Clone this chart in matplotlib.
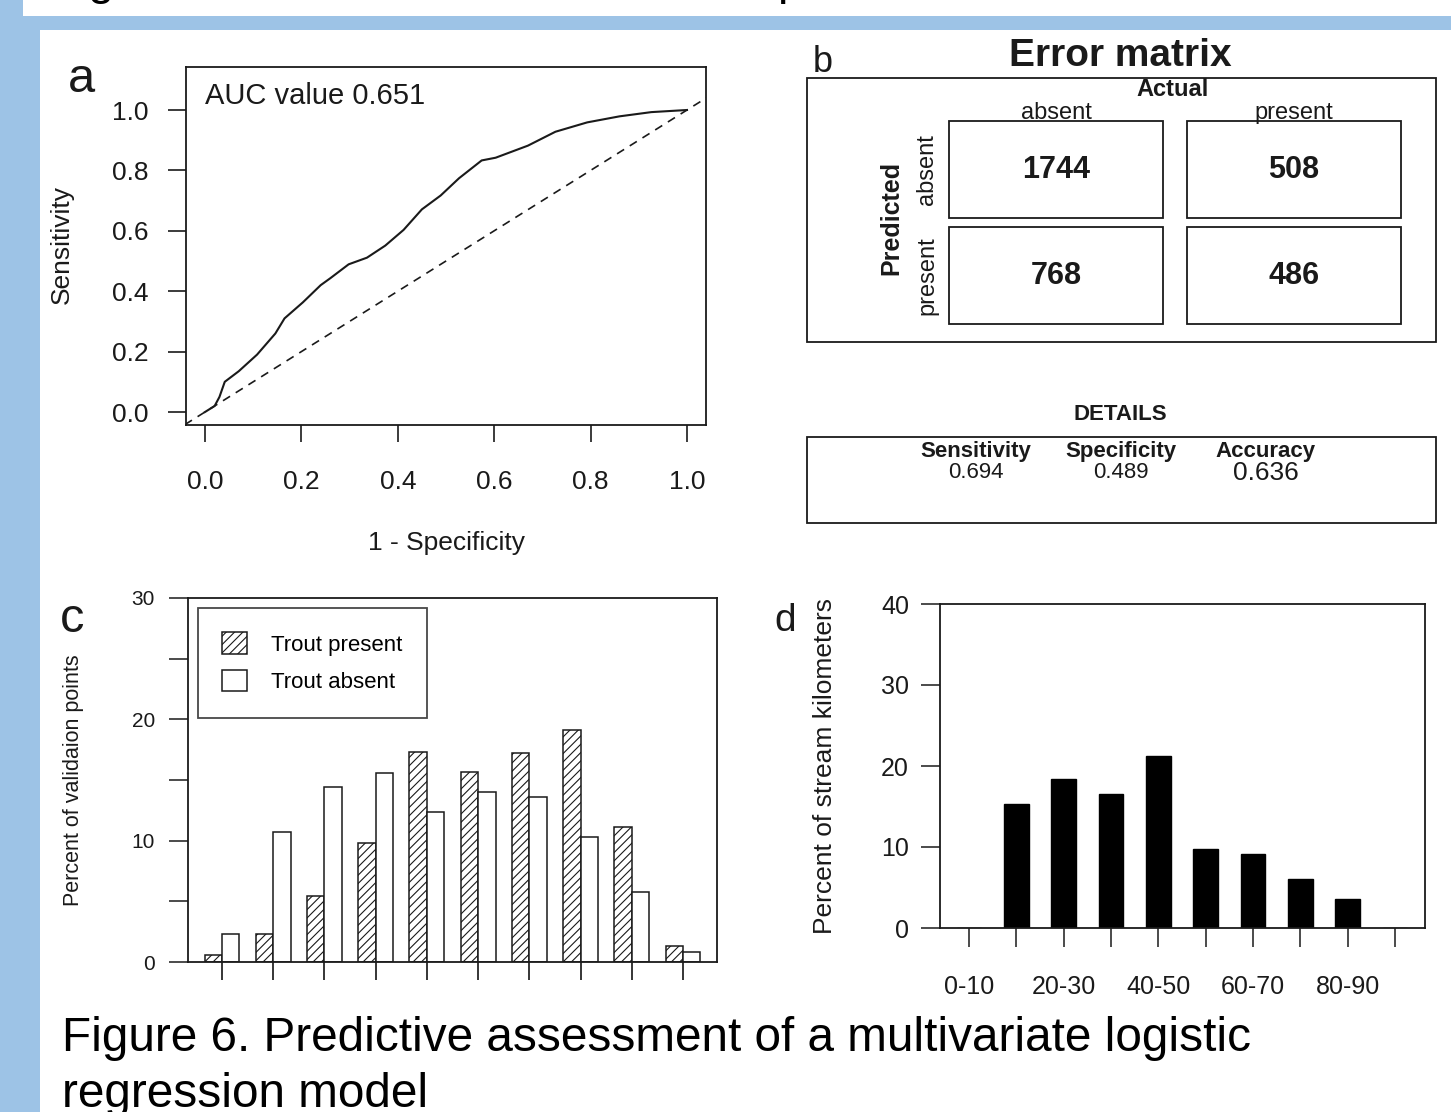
import matplotlib
matplotlib.use("Agg")
import matplotlib.pyplot as plt
from matplotlib.patches import Rectangle

plt.rcParams["font.family"] = ["Liberation Sans", "DejaVu Sans"]
plt.rcParams["hatch.linewidth"] = 0.8
plt.rcParams["axes.linewidth"] = 1.3

# ---- data ----
# panel a: ROC curve
roc_fpr = [0.0, 0.01, 0.02, 0.03, 0.041, 0.07, 0.108, 0.146, 0.165, 0.203, 0.24,
           0.26, 0.298, 0.336, 0.374, 0.412, 0.45, 0.489, 0.527, 0.574, 0.603,
           0.67, 0.727, 0.793, 0.86, 0.926, 1.0]
roc_tpr = [0.0, 0.01, 0.02, 0.05, 0.10, 0.135, 0.19, 0.26, 0.31, 0.363, 0.42,
           0.443, 0.489, 0.511, 0.551, 0.603, 0.671, 0.717, 0.774, 0.833, 0.842,
           0.882, 0.928, 0.959, 0.979, 0.993, 1.0]
auc_value = 0.651

# panel b: error matrix
actual_labels = ["absent", "present"]
predicted_labels = ["absent", "present"]
matrix_counts = [[1744, 508], [768, 486]]
detail_names = ["Sensitivity", "Specificity", "Accuracy"]
detail_values = ["0.694", "0.489", "0.636"]

# panel c: validation points by probability bin
bins_c = [1, 2, 3, 4, 5, 6, 7, 8, 9, 10]
present_pct = [0.6, 2.3, 5.4, 9.8, 17.3, 15.7, 17.2, 19.1, 11.1, 1.3]
absent_pct = [2.3, 10.7, 14.4, 15.6, 12.4, 14.0, 13.6, 10.3, 5.8, 0.8]

# panel d: stream kilometers by probability class
classes_d = ["0-10", "10-20", "20-30", "30-40", "40-50",
             "50-60", "60-70", "70-80", "80-90", "90-100"]
stream_pct = [0, 15.3, 18.4, 16.6, 21.2, 9.8, 9.1, 6.0, 3.6, 0]

caption_lines = ["Figure 6. Predictive assessment of a multivariate logistic",
                 "regression model"]

# ---- figure in pixel units ----
W, H = 1451, 1112
fig = plt.figure(figsize=(W / 100, H / 100), dpi=100)
fig.patch.set_facecolor("#9DC3E6")
INK = "#1a1a1a"


def px_rect(x0, y0, x1, y1, **kw):
    fig.add_artist(Rectangle((x0 / W, 1 - y1 / H), (x1 - x0) / W, (y1 - y0) / H,
                             transform=fig.transFigure, zorder=-10, **kw))


def ftext(x, y, s, **kw):
    kw.setdefault("color", INK)
    return fig.text(x / W, 1 - y / H, s, **kw)


def add_ax(x0, y0, x1, y1):
    return fig.add_axes([x0 / W, 1 - y1 / H, (x1 - x0) / W, (y1 - y0) / H])


def lims(p0, v0, p1, v1, e0, e1):
    s = (v1 - v0) / (p1 - p0)
    return v0 + (e0 - p0) * s, v0 + (e1 - p0) * s


def pt(px):
    return px * 0.72


px_rect(23, 0, W, 16, fc="white", ec="none")
px_rect(40, 30, W, H, fc="white", ec="none")
# cut-off line of the previous text at the very top
ftext(88, -6, "g", fontsize=34, ha="left", va="baseline", color="black")
ftext(777, -6, "p", fontsize=34, ha="left", va="baseline", color="black")

# ---- panel a ----
ax = add_ax(186, 67, 706, 425)
ax.set_xlim(*lims(205, 0, 687, 1, 186, 706))
ax.set_ylim(*lims(412, 0, 110, 1, 425, 67))
ax.plot(roc_fpr, roc_tpr, color=INK, lw=1.5)
ax.plot([-0.2, 1.2], [-0.2, 1.2], color=INK, lw=1.2, dashes=(5, 4))
ticks = [0, 0.2, 0.4, 0.6, 0.8, 1.0]
ax.set_xticks(ticks, [f"{t:.1f}" for t in ticks])
ax.set_yticks(ticks, [f"{t:.1f}" for t in ticks])
ax.tick_params(axis="x", length=pt(17), width=1.2, pad=pt(28), labelsize=19, colors=INK)
ax.tick_params(axis="y", length=pt(18), width=1.2, pad=pt(19), labelsize=19, colors=INK)
ftext(205, 96, f"AUC value {auc_value}", fontsize=21, ha="left", va="center")
ftext(62, 245, "Sensitivity", fontsize=19, rotation=90, ha="center", va="center")
ftext(446, 543, "1 - Specificity", fontsize=19, ha="center", va="center")
ftext(81, 80, "a", fontsize=35, ha="center", va="center")

# ---- panel b ----
ov = fig.add_axes([0, 0, 1, 1], facecolor="none")
ov.set_xlim(0, W)
ov.set_ylim(H, 0)
ov.axis("off")
ov.add_patch(Rectangle((807, 78), 629, 264, fill=False, ec=INK, lw=1.3))
ov.add_patch(Rectangle((807, 437), 629, 86, fill=False, ec=INK, lw=1.3))
cell_x0, cell_y0, cell_dx, cell_dy, cell_w, cell_h = 949, 121, 238, 106, 214, 97
for i, row in enumerate(matrix_counts):
    for j, val in enumerate(row):
        x = cell_x0 + j * cell_dx
        y = cell_y0 + i * cell_dy
        ov.add_patch(Rectangle((x, y), cell_w, cell_h, fill=False, ec=INK, lw=1.3))
        ov.text(x + cell_w / 2, y + cell_h / 2, str(val), fontsize=22,
                fontweight="bold", ha="center", va="center", color=INK)
for j, lab in enumerate(actual_labels):
    ov.text(cell_x0 + j * cell_dx + cell_w / 2, 113, lab, fontsize=17,
            ha="center", va="center", color=INK)
for i, lab in enumerate(predicted_labels):
    ov.text(927, cell_y0 + i * cell_dy + cell_h / 2, lab, fontsize=17,
            rotation=90, ha="center", va="center", color=INK)
ov.text(1120, 56, "Error matrix", fontsize=28, fontweight="bold", ha="center", va="center", color=INK)
ov.text(1173, 89, "Actual", fontsize=17, fontweight="bold", ha="center", va="center", color=INK)
ov.text(891, 218, "Predicted", fontsize=18, fontweight="bold", rotation=90,
        ha="center", va="center", color=INK)
ov.text(1120, 415, "DETAILS", fontsize=16, fontweight="bold", ha="center", va="center", color=INK)
for k, (name, val) in enumerate(zip(detail_names, detail_values)):
    cx = 976 + k * 145
    ov.text(cx, 452, name, fontsize=16, fontweight="bold", ha="center", va="center", color=INK)
    ov.text(cx, 473, val, fontsize=19 if name == "Accuracy" else 16,
            ha="center", va="center", color=INK)
ftext(823, 62, "b", fontsize=26, ha="center", va="center")

# ---- panel c ----
axc = add_ax(188, 598, 717, 962)
axc.set_xlim(*lims(222, 1, 683, 10, 188, 717))
axc.set_ylim(0, 30)
bw = 0.34
axc.bar([b - bw / 2 for b in bins_c], present_pct, width=bw, color="white",
        edgecolor=INK, hatch="////", lw=1.1, label="Trout present")
axc.bar([b + bw / 2 for b in bins_c], absent_pct, width=bw, color="white",
        edgecolor=INK, lw=1.1, label="Trout absent")
axc.set_xticks(bins_c, [""] * len(bins_c))
axc.set_yticks([0, 10, 20, 30])
axc.set_yticks([5, 15, 25], minor=True)
axc.tick_params(axis="x", length=pt(18), width=1.1)
axc.tick_params(axis="y", which="both", length=pt(19), width=1.1, pad=pt(14),
                labelsize=15, colors=INK)
leg = axc.legend(loc="upper left", bbox_to_anchor=(10 / 529, 1 - 10 / 364),
                 fontsize=16, frameon=True, fancybox=False, edgecolor=INK,
                 handlelength=1.1, handleheight=1.1, handletextpad=1.1,
                 borderpad=1.1, labelspacing=0.65, borderaxespad=0)
leg.get_frame().set_linewidth(1.3)
ftext(74, 780, "Percent of validaion points", fontsize=15.5, rotation=90, ha="center", va="center")
ftext(72, 620, "c", fontsize=35, ha="center", va="center")

# ---- panel d ----
axd = add_ax(940, 604, 1425, 928)
xd = list(range(len(classes_d)))
axd.set_xlim(*lims(969, 0, 1395, 9, 940, 1425))
axd.set_ylim(0, 40)
axd.bar(xd, stream_pct, width=0.52, color="black", edgecolor="black")
axd.set_xticks(xd, [c if k % 2 == 0 else "" for k, c in enumerate(classes_d)])
axd.set_yticks([0, 10, 20, 30, 40])
axd.tick_params(axis="x", length=pt(19), width=1.1, pad=pt(28), labelsize=18, colors=INK)
axd.tick_params(axis="y", length=pt(19), width=1.1, pad=pt(12), labelsize=18, colors=INK)
ftext(825, 766, "Percent of stream kilometers", fontsize=19, rotation=90, ha="center", va="center")
ftext(785, 621, "d", fontsize=28, ha="center", va="center")

for a in (ax, axc, axd):
    for s in a.spines.values():
        s.set_color(INK)

# ---- caption ----
for k, line in enumerate(caption_lines):
    ftext(62, 1051 + 56 * k, line, fontsize=34.4, ha="left", va="baseline", color="black")

fig.savefig("out.png", dpi=100, facecolor=fig.get_facecolor())
